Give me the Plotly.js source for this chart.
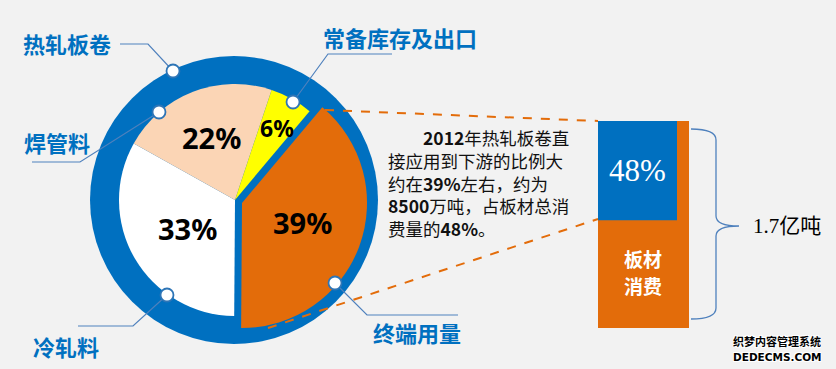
<!DOCTYPE html>
<html><head><meta charset="utf-8">
<script src="https://cdn.plot.ly/plotly-3.0.1.min.js"></script>
<style>html,body{margin:0;padding:0;background:#f2f2f2;}</style>
</head><body><div id="chart" style="width:836px;height:369px;"></div>
<script>
// ---- data ----
const sliceLabels = ['终端用量', '冷轧料', '焊管料', '常备库存及出口'];
const sliceValues = [39, 33, 22, 6];
const sliceColors = ['#E36C0A', '#FFFFFF', '#FBD5B5', '#FFFF00'];
const wholeLabel = '热轧板卷';
const plateShare = 48;          // % of plate consumption
const plateTotal = 1.7;         // 亿吨
const plateTotalLabel = '1.7亿吨';
const plateLabelLines = ['板材', '消费'];
const noteYear = 2012, noteShare = 39, noteTonnage = 8500;

// ---- helpers (pixel -> paper) ----
const W = 836, H = 369;
const px = x => x / W;
const py = y => 1 - y / H;
const BLUE = '#0070C0', ORANGE = '#E36C0A', LINE = '#4F81BD';

function pathP(points) {
  return points.map((p, i) => (i ? 'L' : 'M') + px(p[0]).toFixed(5) + ',' + py(p[1]).toFixed(5)).join(' ');
}

// pie 1: all slices except the exploded one
const pie1 = {
  type: 'pie', values: sliceValues, labels: sliceLabels, sort: false,
  direction: 'clockwise', rotation: 40,
  marker: { colors: sliceColors.map((c, i) => i === 0 ? 'rgba(0,0,0,0)' : c), line: { width: 0 } },
  textinfo: 'none', hoverinfo: 'label+percent', showlegend: false,
  domain: { x: [px(235 - 116), px(235 + 116)], y: [py(200 + 116), py(200 - 116)] }
};
// pie 2: exploded, enlarged orange slice
const pie2 = {
  type: 'pie', values: sliceValues, labels: sliceLabels, sort: false,
  direction: 'clockwise', rotation: 40,
  marker: { colors: sliceColors.map((c, i) => i === 0 ? c : 'rgba(0,0,0,0)'), line: { width: 0 } },
  textinfo: 'none', hoverinfo: 'skip', showlegend: false,
  domain: { x: [px(242 - 125), px(242 + 125)], y: [py(203 + 125), py(203 - 125)] }
};

// stacked bar on the right
const barTotal = {
  type: 'bar', x: [0], y: [plateTotal], width: [1], xaxis: 'x2', yaxis: 'y2',
  marker: { color: ORANGE, line: { width: 0 } }, hoverinfo: 'skip', showlegend: false
};
const blueW = 79 / 91;
const barShare = {
  type: 'bar', x: [0], y: [plateTotal * plateShare / 100], base: [plateTotal * (1 - plateShare / 100)],
  width: [blueW], offset: [-0.5], xaxis: 'x2', yaxis: 'y2',
  marker: { color: BLUE, line: { width: 0 } }, hoverinfo: 'skip', showlegend: false
};

const shapes = [
  // blue ring disc behind the pie
  { type: 'circle', xref: 'paper', yref: 'paper', layer: 'below',
    x0: px(90), x1: px(378), y0: py(344), y1: py(56), fillcolor: BLUE, line: { width: 0 } },
  // dashed orange connectors
  { type: 'line', xref: 'paper', yref: 'paper', x0: px(325), y0: py(110), x1: px(598), y1: py(121),
    line: { color: ORANGE, width: 2, dash: 'dash' } },
  { type: 'line', xref: 'paper', yref: 'paper', x0: px(268), y0: py(328), x1: px(598), y1: py(219),
    line: { color: ORANGE, width: 2, dash: 'dash' } },
  // brace
  { type: 'path', xref: 'paper', yref: 'paper', line: { color: LINE, width: 1.3 },
    path: 'M' + px(691) + ',' + py(129) + ' Q' + px(716) + ',' + py(129) + ' ' + px(716) + ',' + py(140) +
          ' L' + px(716) + ',' + py(216) + ' Q' + px(716) + ',' + py(226) + ' ' + px(739) + ',' + py(226) +
          ' Q' + px(716) + ',' + py(226) + ' ' + px(716) + ',' + py(236) +
          ' L' + px(716) + ',' + py(308) + ' Q' + px(716) + ',' + py(319) + ' ' + px(691) + ',' + py(319) }
];
// label leader lines + dots
const leaders = [
  [[120, 44], [148, 44], [173, 71]],
  [[32, 162], [80, 162], [159, 112]],
  [[78, 326], [133, 326], [167, 295]],
  [[392, 54], [328, 54], [293, 102]],
  [[458, 315], [367, 315], [335, 283]]
];
leaders.forEach(pts => {
  shapes.push({ type: 'path', xref: 'paper', yref: 'paper', path: pathP(pts), line: { color: LINE, width: 1.2 } });
});
leaders.forEach(pts => {
  const [cx, cy] = pts[pts.length - 1];
  const r = 6.5;
  shapes.push({ type: 'circle', xref: 'paper', yref: 'paper', x0: px(cx - r), x1: px(cx + r), y0: py(cy + r), y1: py(cy - r),
    fillcolor: '#FFFFFF', line: { color: '#2E75B6', width: 1.8 } });
});

const annotations = [];
const cjk = '"Noto Sans CJK SC", "Noto Sans", sans-serif';
function ann(text, x, y, font, xanchor, align, h) {
  const a = { text, xref: 'paper', yref: 'paper', x: px(x), y: py(y), xanchor: xanchor || 'center',
    yanchor: 'middle', showarrow: false, font, align: align || 'center' };
  if (h) a.height = h;
  annotations.push(a);
}
// percentage labels
const pctPos = [[302, 222], [187, 228], [211, 137], [277, 128]];
sliceValues.forEach((v, i) => {
  ann('<b>' + v + '%</b>', pctPos[i][0], pctPos[i][1],
      { family: '"Noto Sans", sans-serif', size: i === 3 ? 23 : 29, color: '#000' });
});
// category labels
const labFont = { family: cjk, size: 22, color: BLUE, weight: 'bold' };
ann('<b>' + wholeLabel + '</b>', 21, 43, labFont, 'left');
ann('<b>' + sliceLabels[2] + '</b>', 22, 142, labFont, 'left');
ann('<b>' + sliceLabels[1] + '</b>', 31, 346, labFont, 'left');
ann('<b>' + sliceLabels[3] + '</b>', 321, 37, labFont, 'left');
ann('<b>' + sliceLabels[0] + '</b>', 371, 332, labFont, 'left');
// note paragraph
const noteFont = { family: cjk, size: 17.5, color: '#111' };
const noteLines = [
  '　　<b>' + noteYear + '</b>年热轧板卷直',
  '接应用到下游的比例大',
  '约在<b>' + noteShare + '%</b>左右，约为',
  '<b>' + noteTonnage + '</b>万吨，占板材总消',
  '费量的<b>' + plateShare + '%</b>。'
];
ann(noteLines.join('<br>'), 386, 182.5, noteFont, 'left', 'left');
// bar texts
annotations.push({ text: plateShare + '%', xref: 'x2', yref: 'y2', x: -0.5 + blueW / 2, y: plateTotal * (1 - plateShare / 200),
  showarrow: false, font: { family: '"Liberation Serif", serif', size: 31, color: '#FFFFFF' } });
ann('<b>' + plateLabelLines[0] + '</b>', 643, 257.5, { family: cjk, size: 19, color: '#FFFFFF' }, 'center', 'center', 24);
ann('<b>' + plateLabelLines[1] + '</b>', 643, 284.5, { family: cjk, size: 19, color: '#FFFFFF' }, 'center', 'center', 24);
ann(plateTotalLabel, 751, 226, { family: '"Liberation Serif", "Noto Sans CJK SC", serif', size: 21, color: '#000' }, 'left');
// watermark
const wmShadow = '1px 1px 0 #fff, -1px -1px 0 #fff, 1px -1px 0 #fff, -1px 1px 0 #fff';
ann('<b>织梦内容管理系统</b>', 777, 341, { family: cjk, size: 11, color: '#000', shadow: wmShadow }, 'center', 'center', 14);
ann('<b>DEDECMS.COM</b>', 777, 356, { family: '"DejaVu Sans", sans-serif', size: 10.5, color: '#000', shadow: wmShadow }, 'center', 'center', 13);

const layout = {
  width: W, height: H, margin: { l: 0, r: 0, t: 0, b: 0 },
  paper_bgcolor: '#F2F2F2', plot_bgcolor: 'rgba(0,0,0,0)',
  showlegend: false, barmode: 'overlay',
  xaxis2: { domain: [px(598), px(689)], range: [-0.5, 0.5], visible: false, anchor: 'y2', fixedrange: true },
  yaxis2: { domain: [py(328), py(121)], range: [0, plateTotal], visible: false, anchor: 'x2', fixedrange: true },
  shapes, annotations
};

Plotly.newPlot('chart', [pie1, pie2, barTotal, barShare], layout, { displayModeBar: false, staticPlot: true });
</script>
</body></html>
